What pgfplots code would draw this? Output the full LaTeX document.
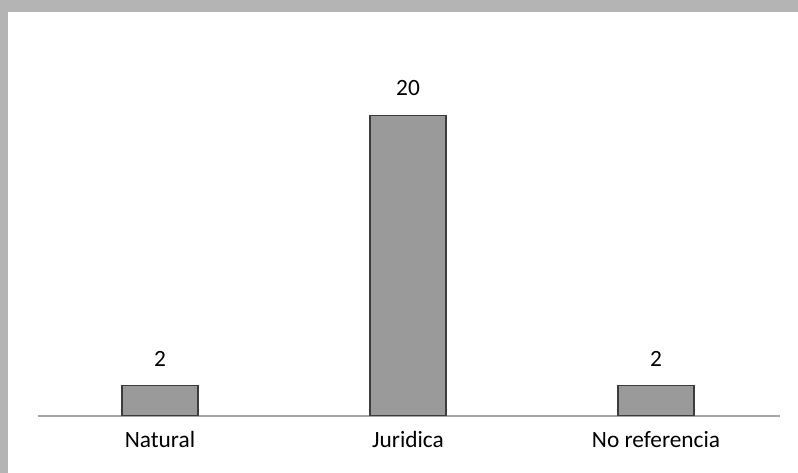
\documentclass[border=0pt]{standalone}
\usepackage{pgfplots}
\pgfplotsset{compat=1.18}
\usepackage{fontspec}
\setmainfont{Carlito}
\definecolor{barfill}{HTML}{9A9A9A}
\definecolor{barline}{HTML}{3C3C3C}
\definecolor{frame}{HTML}{B4B4B4}
\begin{document}
\begin{tikzpicture}
% page and scanned frame (px * 0.75pt)
\path[use as bounding box, fill=frame] (0pt,0pt) rectangle (598.5pt,354.75pt);
\fill[white] (6pt,0pt) rectangle (598.5pt,345.75pt);
\begin{axis}[
    at={(28.5pt,42.75pt)}, anchor=south west,
    scale only axis,
    width=556.5pt, height=270.75pt,
    xmin=-0.492, xmax=2.5,
    ymin=0, ymax=24,
    axis x line=bottom,
    axis y line=none,
    x axis line style={-, draw=gray!70, line width=0.8pt},
    xtick={0,1,2},
    xticklabels={Natural, Juridica, No referencia},
    major tick length=0pt,
    xticklabel style={font=\fontsize{17.5}{20}\selectfont, yshift=-8pt},
    ybar, bar width=57pt,
    nodes near coords,
    every node near coord/.append style={font=\fontsize{17.5}{20}\selectfont, yshift=11pt},
    /pgf/number format/assume math mode=true,
]
\addplot[fill=barfill, draw=barline, line width=0.8pt] coordinates {(0,2) (1,20) (2,2)};
\end{axis}
\end{tikzpicture}
\end{document}
